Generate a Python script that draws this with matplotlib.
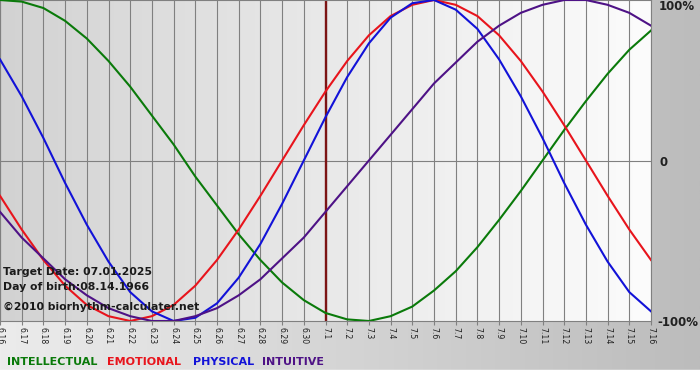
#!/usr/bin/env python3
"""Biorhythm chart, 6.16 - 7.16, target 07.01.2025"""

import numpy as np
import matplotlib
matplotlib.use('Agg')
import matplotlib.pyplot as plt

# day labels along the bottom
days = ['6.16', '6.17', '6.18', '6.19', '6.20', '6.21', '6.22', '6.23',
        '6.24', '6.25', '6.26', '6.27', '6.28', '6.29', '6.30',
        '7.1', '7.2', '7.3', '7.4', '7.5', '7.6', '7.7', '7.8', '7.9',
        '7.10', '7.11', '7.12', '7.13', '7.14', '7.15', '7.16']
target_day = '7.1'

# cycle values per day (-1 .. 1)
intellectual = [1.00, 0.99, 0.95, 0.87, 0.76, 0.62, 0.46, 0.28, 0.10, -0.10,
                -0.28, -0.46, -0.62, -0.76, -0.87, -0.95, -0.99, -1.00, -0.97,
                -0.91, -0.81, -0.69, -0.54, -0.37, -0.19, 0.00, 0.19, 0.37,
                0.54, 0.69, 0.81]
emotional = [-0.22, -0.43, -0.62, -0.78, -0.90, -0.97, -1.00, -0.97, -0.90,
             -0.78, -0.62, -0.43, -0.22, 0.00, 0.22, 0.43, 0.62, 0.78, 0.90,
             0.97, 1.00, 0.97, 0.90, 0.78, 0.62, 0.43, 0.22, 0.00, -0.22,
             -0.43, -0.62]
physical = [0.63, 0.40, 0.14, -0.14, -0.40, -0.63, -0.82, -0.94, -1.00, -0.98,
            -0.89, -0.73, -0.52, -0.27, 0.00, 0.27, 0.52, 0.73, 0.89, 0.98,
            1.00, 0.94, 0.82, 0.63, 0.40, 0.14, -0.14, -0.40, -0.63, -0.82,
            -0.94]
intuitive = [-0.32, -0.48, -0.61, -0.74, -0.84, -0.92, -0.97, -1.00, -1.00,
             -0.97, -0.92, -0.84, -0.74, -0.61, -0.48, -0.32, -0.16, 0.00,
             0.16, 0.32, 0.48, 0.61, 0.74, 0.84, 0.92, 0.97, 1.00, 1.00,
             0.97, 0.92, 0.84]

series = [('INTELLECTUAL', intellectual, '#0a7a0a'),
          ('EMOTIONAL', emotional, '#e8141c'),
          ('PHYSICAL', physical, '#1212d8'),
          ('INTUITIVE', intuitive, '#4e1286')]

W, H = 700, 380
fig = plt.figure(figsize=(W / 100, H / 100), dpi=100)

# outer grey gradient + white strip at the bottom
bg = fig.add_axes([0, 0, 1, 1], zorder=0)
grad = np.linspace(0, 1, 256).reshape(1, -1)
bg.imshow(grad, cmap=matplotlib.colors.LinearSegmentedColormap.from_list(
    'outer', ['#ececec', '#bcbcbc']), aspect='auto',
    extent=(0, 1, 10 / H, 1))
bg.axhspan(0, 10 / H, color='white')
bg.set_xlim(0, 1)
bg.set_ylim(0, 1)
bg.axis('off')

ax = fig.add_axes([0, 1 - 321 / H, 651 / W, 321 / H], zorder=1)
x = np.arange(len(days))
ax.imshow(grad, cmap=matplotlib.colors.LinearSegmentedColormap.from_list(
    'inner', ['#d2d2d2', '#e9e9e9', '#fcfcfc']), aspect='auto',
    extent=(x[0], x[-1], -1, 1), zorder=0)

for xi in x:
    ax.axvline(xi, color='#808080', lw=0.8, zorder=1)
ax.axhline(0, color='#808080', lw=0.8, zorder=1)
ax.axvline(days.index(target_day), color='#7c1414', lw=1.7, zorder=2)

for name, vals, col in series:
    ax.plot(x, vals, color=col, lw=1.5, zorder=3)

ax.set_xlim(x[0], x[-1])
ax.set_ylim(-1, 1)
ax.set_yticks([])
ax.set_xticks(x)
ax.set_xticklabels(days, rotation=270, fontsize=5.6, color='#202020')
ax.tick_params(axis='x', length=3, width=0.8, color='#808080', pad=1.5)
for s in ax.spines.values():
    s.set_color('#808080')
    s.set_linewidth(0.8)

# right-hand percentage labels
lab_kw = dict(fontsize=8.5, fontweight='bold', color='#202020',
              ha='left', va='center')
fig.text(659 / W, 1 - 7 / H, '100%', **lab_kw)
fig.text(659 / W, 1 - 162 / H, '0', **lab_kw)
fig.text(657 / W, 1 - 322 / H, '-100%', **lab_kw)

# info text inside the plot
info_kw = dict(fontsize=7.8, fontweight='bold', color='#1a1a1a',
               ha='left', va='center', zorder=4)
fig.text(3 / W, 1 - 272 / H, 'Target Date: 07.01.2025', **info_kw)
fig.text(3 / W, 1 - 287 / H, 'Day of birth:08.14.1966', **info_kw)
fig.text(3 / W, 1 - 307 / H, '\u00a92010 biorhythm-calculater.net', **info_kw)

# legend words
leg_x = [7, 107, 193, 262]
for (name, vals, col), lx in zip(series, leg_x):
    fig.text(lx / W, 1 - 362 / H, name, fontsize=8, fontweight='bold',
             color=col, ha='left', va='center')

fig.savefig('out.png', dpi=100)
